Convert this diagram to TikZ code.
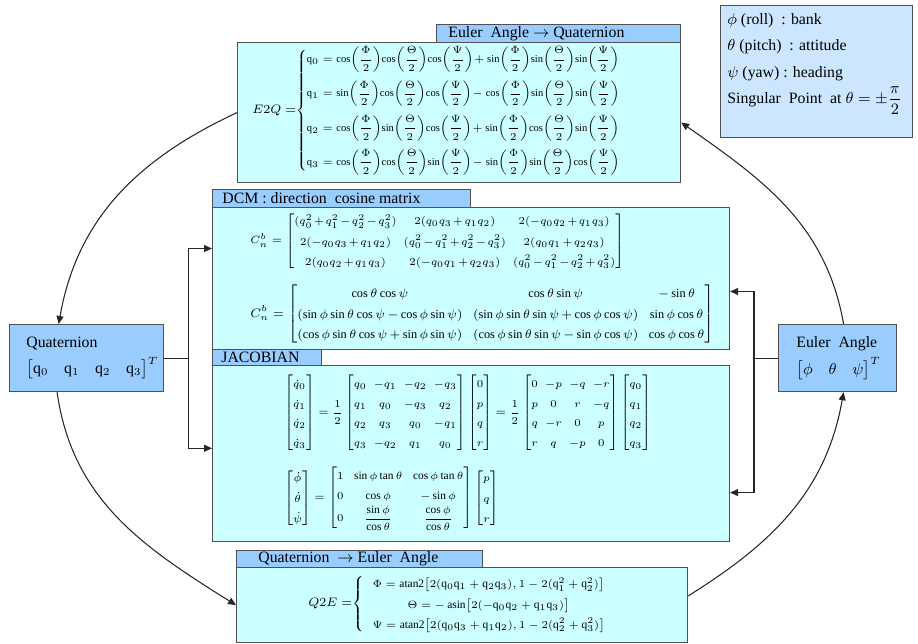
\documentclass[tikz,border=0pt]{standalone}
\usepackage{amsmath}
\usepackage{fontspec}
\setmainfont{Liberation Serif}
\setmathrm{Liberation Serif}
\usetikzlibrary{arrows.meta,calc}

\definecolor{boxcyan}{HTML}{CCFFFF}
\definecolor{tabblue}{HTML}{99CCFF}
\definecolor{legblue}{HTML}{CCE6FF}
\definecolor{boxline}{HTML}{505050}

\newcommand{\halfof}[1]{\!\left(\dfrac{#1}{2}\right)\!}
\newcommand{\uq}[1]{\mathrm{q}_{#1}}

\begin{document}
\begin{tikzpicture}[x=0.02cm,y=0.02cm,
  box/.style={draw=boxline,line width=0.7pt,fill=boxcyan,anchor=north west,inner sep=0pt},
  tab/.style={box,fill=tabblue},
  lbl/.style={font=\fontsize{9}{11}\selectfont,inner sep=0pt},
  eqn/.style={font=\fontsize{7}{11.5}\selectfont,inner sep=0pt},
  wire/.style={line width=0.6pt,draw=black!85},
  link/.style={wire,-{Triangle[length=1.6mm,width=1.4mm]}}]
\useasboundingbox (0,0) rectangle (918,643);

% boxes
\node[box,fill=legblue,minimum width=3.84cm,minimum height=2.64cm] (legend) at (720,638) {};
\node[box,minimum width=8.86cm,minimum height=2.80cm] (e2q) at (237,601) {};
\node[tab,minimum width=4.88cm,minimum height=0.36cm] (e2qtitle) at (436,619) {};
\node[box,minimum width=10.34cm,minimum height=2.84cm] (dcm) at (212,436) {};
\node[tab,minimum width=5.16cm,minimum height=0.36cm] (dcmtitle) at (212,454) {};
\node[box,minimum width=10.34cm,minimum height=3.52cm] (jac) at (212,278) {};
\node[tab,minimum width=2.18cm,minimum height=0.32cm] (jactitle) at (212,294) {};
\node[box,minimum width=9.02cm,minimum height=1.50cm] (q2e) at (236,76) {};
\node[tab,minimum width=4.92cm,minimum height=0.34cm] (q2etitle) at (236,93) {};
\node[tab,minimum width=3.08cm,minimum height=1.34cm] (quat) at (9,319) {};
\node[tab,minimum width=2.36cm,minimum height=1.34cm] (euler) at (778,319) {};

% titles
\node[lbl,anchor=west] (e2qname) at ([xshift=0.24cm]e2qtitle.west) {Euler\ \ Angle $\rightarrow$ Quaternion};
\node[lbl,anchor=west] (dcmname) at ([xshift=0.2cm]dcmtitle.west) {DCM : direction\ \ cosine\ matrix};
\node[lbl,anchor=west] (jacname) at ([xshift=0.18cm]jactitle.west) {JACOBIAN};
\node[lbl,anchor=west] (q2ename) at ([xshift=0.44cm]q2etitle.west) {Quaternion\ \ $\rightarrow$ Euler\ \ Angle};

\node[lbl,font=\fontsize{9}{15}\selectfont,align=left,anchor=west] (quatname) at ([xshift=0.34cm]quat.west)
  {Quaternion\\ $\bigl[\uq0\quad\uq1\quad\uq2\quad\uq3\bigr]^T$};
\node[lbl,font=\fontsize{9}{15}\selectfont,align=left,anchor=west] (eulername) at ([xshift=0.36cm]euler.west)
  {Euler\ \ Angle\\ $\bigl[\phi\quad\theta\quad\psi\bigr]^T$};

\node[lbl,font=\fontsize{9}{15}\selectfont,align=left,anchor=north west] (legtext) at (727,630)
  {$\phi$ (roll)\ \ : bank\\ $\theta$ (pitch)\ \ : attitude\\ $\psi$ (yaw)\ : heading\\
   Singular\ \ Point\ \ at $\theta=\pm\dfrac{\pi}{2}$};

% equations
\node[eqn,font=\fontsize{6}{7}\selectfont,anchor=west] (e2qeq) at (252,532) {\mbox{\fontsize{7.5}{9}\selectfont$E2Q=$}$\begin{cases}
 \uq0=\cos\halfof{\Phi}\cos\halfof{\Theta}\cos\halfof{\Psi}+\sin\halfof{\Phi}\sin\halfof{\Theta}\sin\halfof{\Psi}\\[8pt]
 \uq1=\sin\halfof{\Phi}\cos\halfof{\Theta}\cos\halfof{\Psi}-\cos\halfof{\Phi}\sin\halfof{\Theta}\sin\halfof{\Psi}\\[8pt]
 \uq2=\cos\halfof{\Phi}\sin\halfof{\Theta}\cos\halfof{\Psi}+\sin\halfof{\Phi}\cos\halfof{\Theta}\sin\halfof{\Psi}\\[8pt]
 \uq3=\cos\halfof{\Phi}\cos\halfof{\Theta}\sin\halfof{\Psi}-\sin\halfof{\Phi}\sin\halfof{\Theta}\cos\halfof{\Psi}
 \end{cases}$};

\node[eqn,font=\fontsize{6.5}{11.5}\selectfont,anchor=west] (dcmq) at (250,402) {$\arraycolsep=2pt\medmuskip=2mu C_n^b=\begin{bmatrix}
 (q_0^2+q_1^2-q_2^2-q_3^2) & 2(q_0q_3+q_1q_2) & 2(-q_0q_2+q_1q_3)\\
 2(-q_0q_3+q_1q_2) & (q_0^2-q_1^2+q_2^2-q_3^2) & 2(q_0q_1+q_2q_3)\\
 2(q_0q_2+q_1q_3) & 2(-q_0q_1+q_2q_3) & (q_0^2-q_1^2-q_2^2+q_3^2)
 \end{bmatrix}$};
\node[eqn,anchor=west] (dcme) at (250,329) {$\arraycolsep=3pt\medmuskip=3mu C_n^b=\begin{bmatrix}
 \cos\theta\cos\psi & \cos\theta\sin\psi & -\sin\theta\\
 (\sin\phi\sin\theta\cos\psi-\cos\phi\sin\psi) & (\sin\phi\sin\theta\sin\psi+\cos\phi\cos\psi) & \sin\phi\cos\theta\\
 (\cos\phi\sin\theta\cos\psi+\sin\phi\sin\psi) & (\cos\phi\sin\theta\sin\psi-\sin\phi\cos\psi) & \cos\phi\cos\theta
 \end{bmatrix}$};

\node[eqn,font=\fontsize{6.5}{11.3}\selectfont,anchor=west] (jacq) at (284,230) {$\arraycolsep=2pt\begin{bmatrix}\dot q_0\\ \dot q_1\\ \dot q_2\\ \dot q_3\end{bmatrix}
 =\dfrac12\begin{bmatrix}q_0&-q_1&-q_2&-q_3\\ q_1&q_0&-q_3&q_2\\ q_2&q_3&q_0&-q_1\\ q_3&-q_2&q_1&q_0\end{bmatrix}
 \begin{bmatrix}0\\ p\\ q\\ r\end{bmatrix}
 =\dfrac12\begin{bmatrix}0&-p&-q&-r\\ p&0&r&-q\\ q&-r&0&p\\ r&q&-p&0\end{bmatrix}
 \begin{bmatrix}q_0\\ q_1\\ q_2\\ q_3\end{bmatrix}$};
\node[eqn,font=\fontsize{6.5}{11.5}\selectfont,anchor=west] (jace) at (284,145) {$\arraycolsep=3pt\begin{bmatrix}\dot\phi\\ \dot\theta\\ \dot\psi\end{bmatrix}
 =\begin{bmatrix}1&\sin\phi\tan\theta&\cos\phi\tan\theta\\ 0&\cos\phi&-\sin\phi\\
 0&\dfrac{\sin\phi}{\cos\theta}&\dfrac{\cos\phi}{\cos\theta}\end{bmatrix}
 \begin{bmatrix}p\\ q\\ r\end{bmatrix}$};

\node[eqn,font=\fontsize{6.5}{11.5}\selectfont,anchor=west] (q2eeq) at (308,39) {\mbox{\fontsize{7.5}{9}\selectfont$Q2E=$}$\left\{\begin{array}{c}
 \Phi=\operatorname{atan2}\bigl[2(\uq0\uq1+\uq2\uq3),1-2(\uq1^2+\uq2^2)\bigr]\\
 \Theta=-\operatorname{asin}\bigl[2(-\uq0\uq2+\uq1\uq3)\bigr]\\
 \Psi=\operatorname{atan2}\bigl[2(\uq0\uq3+\uq1\uq2),1-2(\uq2^2+\uq3^2)\bigr]
 \end{array}\right.$};

% connectors
\coordinate (qj) at ([xshift=0.48cm]quat.east);
\draw[wire] (quat.east) -- (qj);
\draw[link] (qj) |- ($(dcm.north west)!0.29!(dcm.south west)$);
\draw[link] (qj) |- ($(jac.north west)!0.47!(jac.south west)$);
\coordinate (ej) at ([xshift=-0.48cm]euler.west);
\draw[wire] (euler.west) -- (ej);
\draw[link] (ej) |- ($(dcm.north east)!0.59!(dcm.south east)$);
\draw[link] (ej) |- ($(jac.north east)!0.72!(jac.south east)$);

\draw[link] (e2q.west) to[out=205,in=80] ($(quat.north west)!0.32!(quat.north east)$);
\draw[link] ($(quat.south west)!0.31!(quat.south east)$) to[out=-82,in=148] (q2e.west);
\draw[link] ($(q2e.north east)!0.38!(q2e.south east)$) to[out=32,in=-100] ($(euler.south west)!0.55!(euler.south east)$);
\draw[link] ($(euler.north west)!0.55!(euler.north east)$) to[out=100,in=-35] ($(e2q.north east)!0.57!(e2q.south east)$);
\end{tikzpicture}
\end{document}
